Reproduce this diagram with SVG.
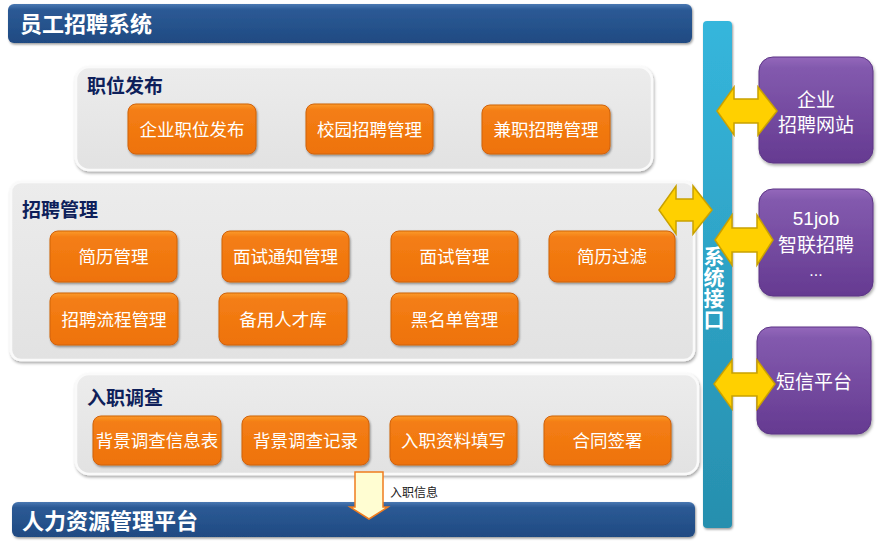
<svg xmlns="http://www.w3.org/2000/svg" width="880" height="546" viewBox="0 0 880 546">
<defs>
<linearGradient id="gBar" x1="0" y1="0" x2="0" y2="1">
<stop offset="0" stop-color="#4a78b2"/><stop offset="0.15" stop-color="#2c5a95"/><stop offset="1" stop-color="#1f4a82"/>
</linearGradient>
<linearGradient id="gPanel" x1="0" y1="0" x2="0" y2="1">
<stop offset="0" stop-color="#ececec"/><stop offset="1" stop-color="#e2e2e2"/>
</linearGradient>
<linearGradient id="gOrange" x1="0" y1="0" x2="0" y2="1">
<stop offset="0" stop-color="#fb9a2a"/><stop offset="0.12" stop-color="#f47e14"/><stop offset="1" stop-color="#ee720c"/>
</linearGradient>
<linearGradient id="gPurple" x1="0" y1="0" x2="0" y2="1">
<stop offset="0" stop-color="#9468bb"/><stop offset="0.1" stop-color="#835aae"/><stop offset="1" stop-color="#653a91"/>
</linearGradient>
<linearGradient id="gVert" x1="0" y1="0" x2="0" y2="1">
<stop offset="0" stop-color="#35b6dc"/><stop offset="1" stop-color="#278fae"/>
</linearGradient>
<filter id="sh" x="-10%" y="-10%" width="125%" height="135%">
<feDropShadow dx="1" dy="2" stdDeviation="1.6" flood-color="#000" flood-opacity="0.35"/>
</filter>
<filter id="shs" x="-10%" y="-10%" width="125%" height="135%">
<feDropShadow dx="1" dy="1.5" stdDeviation="1.2" flood-color="#000" flood-opacity="0.4"/>
</filter>
</defs>
<style>
.bar{fill:url(#gBar);filter:url(#shs)}
.bartxt{font-family:"Noto Sans CJK SC","Liberation Sans",sans-serif;font-weight:bold;font-size:22px;fill:#fff}
.panel{fill:url(#gPanel);stroke:#fafafa;stroke-width:2.5;filter:url(#sh)}
.ptitle{font-family:"Noto Sans CJK SC","Liberation Sans",sans-serif;font-weight:bold;font-size:19px;fill:#0e1f5a}
.ob{fill:url(#gOrange);stroke:#d0620a;stroke-width:1;filter:url(#shs)}
.ot{font-family:"Noto Sans CJK SC","Liberation Sans",sans-serif;font-size:17.5px;fill:#fff;text-anchor:middle}
.pb{fill:url(#gPurple);stroke:#5c3585;stroke-width:1;filter:url(#sh)}
.pt{font-family:"Noto Sans CJK SC","Liberation Sans",sans-serif;font-size:19px;fill:#fff;text-anchor:middle}
.lat{font-family:"Liberation Sans","Noto Sans",sans-serif}
.ya{fill:#ffd000;stroke:#c9a100;stroke-width:1.5;stroke-linejoin:miter}
.vt{font-family:"Noto Sans CJK SC","Liberation Sans",sans-serif;font-weight:bold;font-size:21px;fill:#fff;writing-mode:vertical-rl}
</style>
<rect width="880" height="546" fill="#fff"/>

<g id="title-bar">
<rect class="bar" x="8" y="4" width="684" height="39" rx="6"/>
<text class="bartxt" x="20" y="32">员工招聘系统</text>
</g>

<g id="hr-platform">
<rect class="bar" x="12" y="502" width="683" height="35" rx="6"/>
<text class="bartxt" x="22" y="529">人力资源管理平台</text>
</g>

<g id="interface-bar">
<rect x="703" y="21" width="29" height="507" rx="4" fill="url(#gVert)" filter="url(#shs)"/>
<text class="vt" x="714" y="246">系统接口</text>
</g>

<g id="panel-post">
<rect class="panel" x="76" y="67" width="576" height="103" rx="13"/>
<text class="ptitle" x="87" y="93">职位发布</text>
</g>
<g id="n-qyzwfb"><rect class="ob" x="128" y="104" width="128" height="50" rx="8"/><text class="ot" x="192" y="136">企业职位发布</text></g>
<g id="n-xyzpgl"><rect class="ob" x="306" y="104" width="127" height="50" rx="8"/><text class="ot" x="369.5" y="136">校园招聘管理</text></g>
<g id="n-jzzpgl"><rect class="ob" x="482" y="105" width="128" height="49" rx="8"/><text class="ot" x="546" y="136">兼职招聘管理</text></g>

<g id="panel-manage">
<rect class="panel" x="11" y="182" width="683" height="178" rx="10"/>
<text class="ptitle" x="22" y="217">招聘管理</text>
</g>
<g id="n-jlgl"><rect class="ob" x="50" y="231" width="127" height="51" rx="8"/><text class="ot" x="113.5" y="263">简历管理</text></g>
<g id="n-mstzgl"><rect class="ob" x="222" y="231" width="127" height="51" rx="8"/><text class="ot" x="285.5" y="263">面试通知管理</text></g>
<g id="n-msgl"><rect class="ob" x="391" y="231" width="127" height="51" rx="8"/><text class="ot" x="454.5" y="263">面试管理</text></g>
<g id="n-jlgl2"><rect class="ob" x="549" y="231" width="126" height="51" rx="8"/><text class="ot" x="612" y="263">简历过滤</text></g>
<g id="n-zplcgl"><rect class="ob" x="50" y="293" width="128" height="52" rx="8"/><text class="ot" x="114" y="326">招聘流程管理</text></g>
<g id="n-byrck"><rect class="ob" x="219" y="293" width="128" height="52" rx="8"/><text class="ot" x="283" y="326">备用人才库</text></g>
<g id="n-hmdgl"><rect class="ob" x="391" y="293" width="127" height="52" rx="8"/><text class="ot" x="454.5" y="326">黑名单管理</text></g>

<g id="panel-onboard">
<rect class="panel" x="76" y="374" width="622" height="100" rx="13"/>
<text class="ptitle" x="87" y="405">入职调查</text>
</g>
<g id="n-bjdcxxb"><rect class="ob" x="93" y="416" width="128" height="49" rx="8"/><text class="ot" x="157" y="447">背景调查信息表</text></g>
<g id="n-bjdcjl"><rect class="ob" x="242" y="416" width="127" height="49" rx="8"/><text class="ot" x="305.5" y="447">背景调查记录</text></g>
<g id="n-rzzltx"><rect class="ob" x="390" y="416" width="127" height="49" rx="8"/><text class="ot" x="453.5" y="447">入职资料填写</text></g>
<g id="n-htqs"><rect class="ob" x="544" y="416" width="127" height="49" rx="8"/><text class="ot" x="607.5" y="447">合同签署</text></g>

<g id="n-qyzpwz"><rect class="pb" x="759" y="57" width="114" height="106" rx="14"/><text class="pt" x="816" y="107"><tspan x="816">企业</tspan><tspan x="816" dy="25">招聘网站</tspan></text></g>
<g id="n-51job"><rect class="pb" x="759" y="189" width="114" height="107" rx="14"/><text class="pt" x="816" y="225"><tspan class="lat" x="816">51job</tspan><tspan x="816" dy="27">智联招聘</tspan><tspan class="lat" x="816" dy="24" style="font-size:16px">...</tspan></text></g>
<g id="n-dxpt"><rect class="pb" x="757" y="327" width="114" height="107" rx="14"/><text class="pt" x="814" y="389">短信平台</text></g>

<g id="connectors">
<path class="ya" d="M717,111 L734,87 L734,99 L758,99 L758,87 L777,111 L758,135 L758,123 L734,123 L734,135 Z"/>
<path class="ya" d="M659,210 L676,186 L676,199 L693,199 L693,186 L712,210 L693,234 L693,221 L676,221 L676,234 Z"/>
<path class="ya" d="M715,240 L732,215 L732,228 L757,228 L757,215 L773,240 L757,265 L757,252 L732,252 L732,265 Z"/>
<path class="ya" d="M714,384 L732,360 L732,373 L757,373 L757,360 L775,384 L757,409 L757,396 L732,396 L732,409 Z"/>
<path d="M355,472 L383,472 L383,507 L388,507 L369,519 L350,507 L355,507 Z" fill="#fffdd2" stroke="#f07c1e" stroke-width="1.5"/>
<text x="390" y="497" font-family="Noto Sans CJK SC, Liberation Sans, sans-serif" font-size="12" fill="#222">入职信息</text>
</g>
</svg>
